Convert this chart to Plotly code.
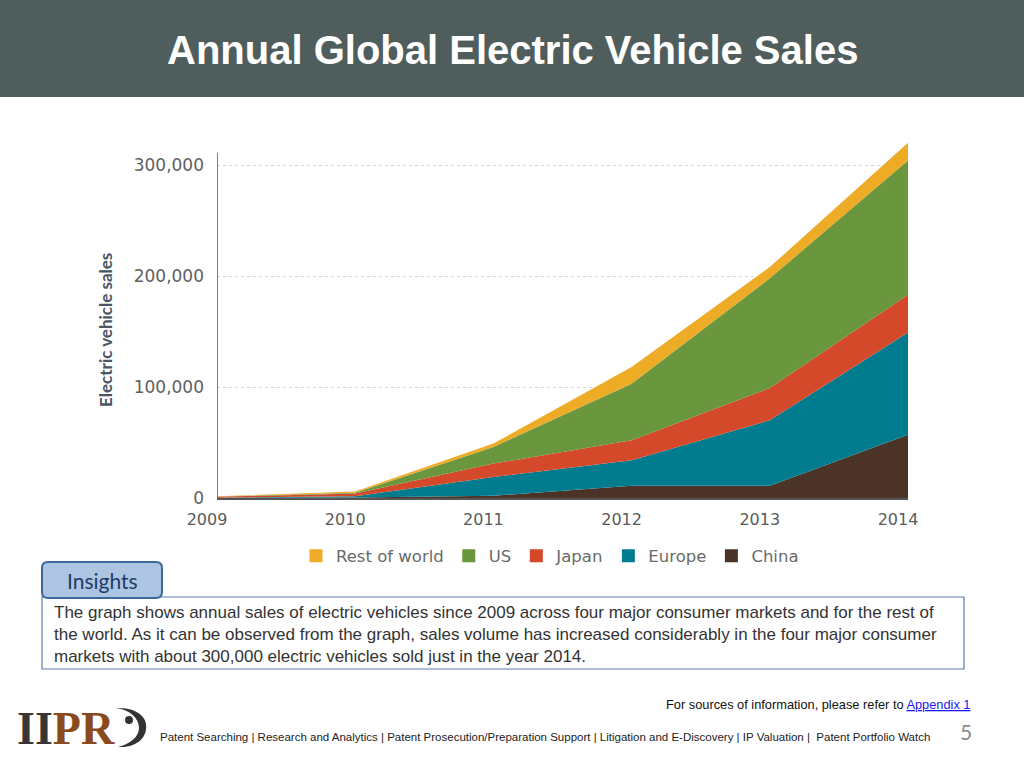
import plotly.graph_objects as go

# ---------------- data ----------------
years = [2009, 2010, 2011, 2012, 2013, 2014]
china = [0, 500, 2000, 11000, 11000, 57000]
europe = [300, 1000, 17000, 23000, 59000, 92000]
japan = [800, 2500, 12000, 18000, 29000, 34000]
us = [200, 800, 15000, 51000, 99000, 121000]
rest_of_world = [200, 1000, 3000, 15000, 10000, 16000]

series_names = ["China", "Europe", "Japan", "US", "Rest of world"]
series_values = [china, europe, japan, us, rest_of_world]
series_colors = ["#4b3327", "#007c8e", "#d5492b", "#6a963e", "#edab26"]

y_tickvals = [0, 100000, 200000, 300000]
y_ticktext = ["0", "100,000", "200,000", "300,000"]
x_ticktext = [str(y) for y in years]

W, H = 1024, 768


def px(x):
    return x / W


def py(y):
    return 1 - y / H


fig = go.Figure()
for name, vals, col in zip(series_names, series_values, series_colors):
    fig.add_trace(go.Scatter(
        x=years, y=vals, name=name, mode="none", stackgroup="one",
        fillcolor=col, line=dict(width=0, color=col), hoverinfo="x+y+name",
        legendgroup=name, showlegend=False,
    ))
# legend entries with square swatches (linked to the area traces)
for name, col in zip(series_names, series_colors):
    fig.add_trace(go.Scatter(
        x=[None], y=[None], name=name, mode="markers", legendgroup=name,
        marker=dict(symbol="square", size=13, color=col), showlegend=True,
    ))

Y_TOP = 321000
fig.update_layout(
    width=W, height=H,
    margin=dict(l=0, r=0, t=0, b=0, pad=0, autoexpand=False),
    paper_bgcolor="white", plot_bgcolor="white",
    showlegend=True,
    legend=dict(
        orientation="h", traceorder="reversed",
        x=px(550), xanchor="center", y=py(556), yanchor="middle",
        font=dict(family="DejaVu Sans", size=16.5, color="#6a6a6a"),
        itemwidth=30, bgcolor="rgba(0,0,0,0)",
    ),
    xaxis=dict(
        domain=[px(217), px(908)], range=[2009, 2014],
        tickvals=years, ticktext=x_ticktext, ticks="",
        showgrid=False, zeroline=False,
        showline=True, linecolor="#555555", linewidth=1.5,
        tickfont=dict(family="DejaVu Sans", size=16, color="#5a5a5a"),
        ticklabelshift=-10, ticklabelstandoff=6, fixedrange=True,
    ),
    yaxis=dict(
        domain=[py(498), py(498 - Y_TOP * 0.00111)], range=[0, Y_TOP],
        tickvals=y_tickvals, ticktext=y_ticktext, ticks="",
        showgrid=True, gridcolor="#d4d4d4", griddash="dot", gridwidth=1,
        zeroline=False, showline=False,
        tickfont=dict(family="DejaVu Sans", size=17, color="#5f5f5f"),
        ticklabelstandoff=12, fixedrange=True,
    ),
)

shapes = []
# title bar
shapes.append(dict(type="rect", xref="paper", yref="paper", x0=0, x1=1, y0=py(97), y1=1,
                   fillcolor="#4f5e5c", line=dict(width=0), layer="below"))
# y axis line
shapes.append(dict(type="line", xref="x", yref="y", x0=2009, x1=2009, y0=0, y1=311000,
                   line=dict(color="#555555", width=1.5)))
# insights body box
shapes.append(dict(type="rect", xref="paper", yref="paper", x0=px(42), x1=px(964), y0=py(669), y1=py(597),
                   fillcolor="white", line=dict(color="#5b7cab", width=1.2)))
# insights tab (rounded rect)
x0, x1, y0, y1, r = 42, 162, 562, 598, 6
path = (f"M {px(x0 + r)},{py(y0)} L {px(x1 - r)},{py(y0)} Q {px(x1)},{py(y0)} {px(x1)},{py(y0 + r)} "
        f"L {px(x1)},{py(y1 - r)} Q {px(x1)},{py(y1)} {px(x1 - r)},{py(y1)} "
        f"L {px(x0 + r)},{py(y1)} Q {px(x0)},{py(y1)} {px(x0)},{py(y1 - r)} "
        f"L {px(x0)},{py(y0 + r)} Q {px(x0)},{py(y0)} {px(x0 + r)},{py(y0)} Z")
shapes.append(dict(type="path", xref="paper", yref="paper", path=path,
                   fillcolor="#adc4e2", line=dict(color="#3c679a", width=2)))
# logo crescent
cres = (f"M {px(116)},{py(708)} C {px(140)},{py(707)} {px(148)},{py(720)} {px(146)},{py(729)} "
        f"C {px(145)},{py(740)} {px(134)},{py(748)} {px(118)},{py(747)} "
        f"C {px(130)},{py(744)} {px(139)},{py(737)} {px(139)},{py(728)} "
        f"C {px(139)},{py(718)} {px(130)},{py(710)} {px(116)},{py(708)} Z")
shapes.append(dict(type="path", xref="paper", yref="paper", path=cres,
                   fillcolor="#333333", line=dict(width=0)))
shapes.append(dict(type="circle", xref="paper", yref="paper", x0=px(125), x1=px(133), y0=py(724), y1=py(716),
                   fillcolor="#333333", line=dict(width=0)))
fig.update_layout(shapes=shapes)

ann = []
ann.append(dict(text="<b>Annual Global Electric Vehicle Sales</b>", x=px(512), y=py(50),
                xref="paper", yref="paper", showarrow=False, xanchor="center", yanchor="middle",
                font=dict(family="Liberation Sans", size=40, color="white")))
ann.append(dict(text="<b>Electric vehicle sales</b>", x=px(105), y=py(330), textangle=-90,
                xref="paper", yref="paper", showarrow=False, xanchor="center", yanchor="middle",
                font=dict(family="Lato", size=17, color="#4a5663")))
ann.append(dict(text="Insights", x=px(102), y=py(580), xref="paper", yref="paper", showarrow=False,
                xanchor="center", yanchor="middle",
                font=dict(family="Lato", size=21, color="#1f3c68")))
body = ("The graph shows annual sales of electric vehicles since 2009 across four major consumer markets and for the rest of<br>"
        "the world. As it can be observed from the graph, sales volume has increased considerably in the four major consumer<br>"
        "markets with about 300,000 electric vehicles sold just in the year 2014.")
ann.append(dict(text=body, x=px(52), y=py(634), xref="paper", yref="paper", showarrow=False,
                xanchor="left", yanchor="middle", align="left",
                font=dict(family="Liberation Sans", size=17, color="#333333")))
ann.append(dict(text="For sources of information, please refer to <span style='color:#1a1aee'><u>Appendix 1</u></span>",
                x=px(972), y=py(704), xref="paper", yref="paper", showarrow=False,
                xanchor="right", yanchor="middle",
                font=dict(family="Liberation Sans", size=12.8, color="#111111")))
footer = ("Patent Searching | Research and Analytics | Patent Prosecution/Preparation Support | "
          "Litigation and E-Discovery | IP Valuation |  Patent Portfolio Watch")
ann.append(dict(text=footer, x=px(158), y=py(737), xref="paper", yref="paper", showarrow=False,
                xanchor="left", yanchor="middle",
                font=dict(family="Liberation Sans", size=11.5, color="#222222")))
ann.append(dict(text="5", x=px(966), y=py(731), xref="paper", yref="paper", showarrow=False,
                xanchor="center", yanchor="middle",
                font=dict(family="Lato", size=21, color="#8a8a8a")))
ann.append(dict(text="<b><span style='color:#363636'>II</span><span style='color:#8a4a1e'>PR</span></b>",
                x=px(15), y=py(728), xref="paper", yref="paper", showarrow=False,
                xanchor="left", yanchor="middle",
                font=dict(family="Liberation Serif", size=46, color="#363636")))
fig.update_layout(annotations=ann)

fig.write_html("out.html", config={"displayModeBar": False},
               post_script="document.body.style.margin='0';document.body.style.overflow='hidden';")
